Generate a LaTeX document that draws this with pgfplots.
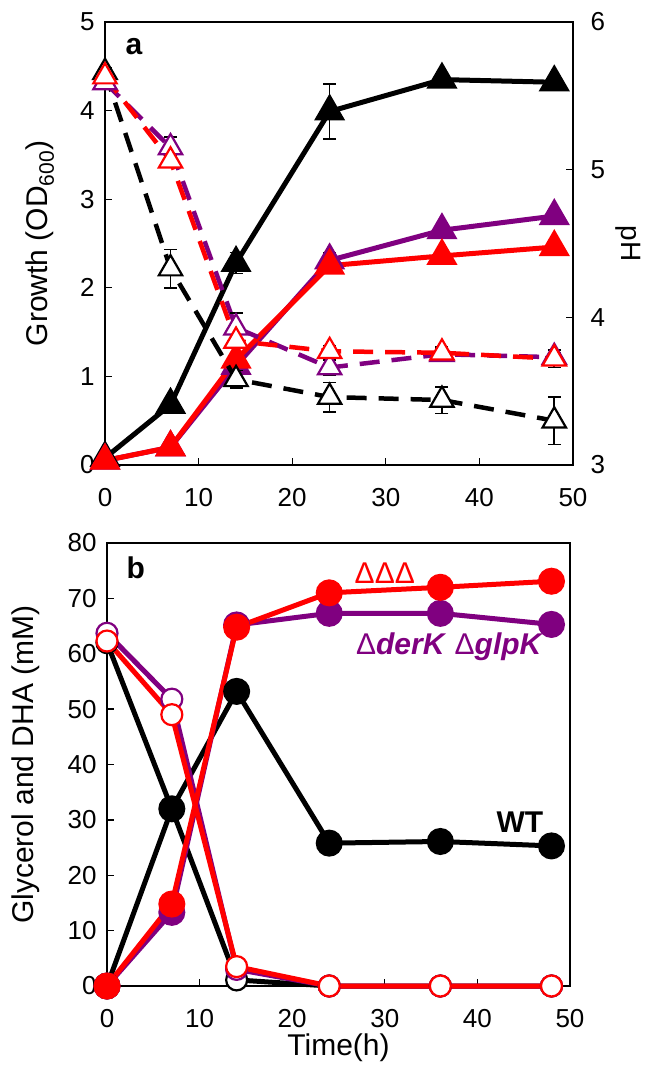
\documentclass[border=0pt]{standalone}
\usepackage{pgfplots}
\pgfplotsset{compat=1.18}
\usepackage{fontspec}
\setmainfont{Liberation Sans}
\definecolor{ppl}{RGB}{128,0,128}
\definecolor{rd}{RGB}{255,0,0}

\pgfplotsset{
  every axis/.append style={
    scale only axis, clip=false,
    tick label style={font=\fontsize{26}{30}\selectfont},
    label style={font=\fontsize{30}{34}\selectfont},
    /pgf/number format/assume math mode=true,
    axis line style={line width=1.3pt},
    major tick style={line width=1.3pt, black},
    major tick length=7pt,
    tick align=inside,
    xticklabel style={yshift=-20pt},
  },
  grow/.style={line width=5pt, mark=triangle*, mark size=13pt, mark options={solid}},
  ph/.style={line width=4.5pt, dash pattern=on 20pt off 12pt, mark=triangle*, mark size=13.5pt,
             mark options={solid, fill=white, line width=2.2pt}},
  circ/.style={line width=5pt, mark=*, mark size=11pt, mark options={solid}},
  ocirc/.style={line width=5pt, mark=*, mark size=10.5pt, mark options={solid, fill=white, line width=2.2pt}},
  eb/.style={error bars/.cd, y dir=both, y explicit,
    error bar style={black, solid, line width=1.6pt},
    error mark options={rotate=90, mark size=6.5pt, black, solid, line width=1.6pt}},
}

\begin{document}
\begin{tikzpicture}
% panel a, growth
\begin{axis}[
  at={(0pt,0pt)}, anchor=south west,
  width=468pt, height=443pt,
  xmin=0, xmax=50, ymin=0, ymax=5,
  xtick={0,10,...,50}, ytick={0,1,...,5},
  xtick pos=bottom, ytick pos=left,
  yticklabel style={xshift=-7pt},
  ylabel={Growth (OD\textsubscript{600})},
  ylabel style={at={(axis description cs:-0.139,0.5)}, anchor=center},
]
\addplot[grow, black, eb] coordinates {(0,0.08) +- (0,0.03) (7,0.68) +- (0,0.05) (14,2.28) +- (0,0.12) (24,3.99) +- (0,0.31) (36,4.35) +- (0,0.03) (48,4.32) +- (0,0.03)};
\addplot[grow, ppl, eb] coordinates {(0,0.05) +- (0,0.02) (7,0.2) +- (0,0.02) (14,1.12) +- (0,0.05) (24,2.31) +- (0,0.08) (36,2.65) +- (0,0.05) (48,2.81) +- (0,0.04)};
\addplot[grow, rd, eb] coordinates {(0,0.05) +- (0,0.02) (7,0.2) +- (0,0.02) (14,1.19) +- (0,0.05) (24,2.25) +- (0,0.06) (36,2.36) +- (0,0.06) (48,2.46) +- (0,0.05)};
\node[font=\fontsize{30}{34}\selectfont\bfseries] at (axis cs:3.1,4.72) {a};
\end{axis}
% panel a, pH
\begin{axis}[
  at={(0pt,0pt)}, anchor=south west,
  width=468pt, height=443pt,
  xmin=0, xmax=50, ymin=3, ymax=6,
  axis y line*=right, axis x line=none,
  ytick={3,4,5,6},
  yticklabel style={xshift=14pt},
  ylabel={pH},
  ylabel style={at={(axis description cs:1.118,0.5)}, anchor=center, rotate=180, font=\fontsize{28}{32}\selectfont},
]
\addplot[ph, black, eb] coordinates {(0,5.66) +- (0,0.03) (7,4.33) +- (0,0.13) (14,3.58) +- (0,0.06) (24,3.46) +- (0,0.1) (36,3.44) +- (0,0.09) (48,3.3) +- (0,0.16)};
\addplot[ph, ppl, eb] coordinates {(0,5.59) +- (0,0.02) (7,5.15) +- (0,0.07) (14,3.93) +- (0,0.1) (24,3.66) +- (0,0.05) (36,3.75) +- (0,0.04) (48,3.73) +- (0,0.03)};
\addplot[ph, rd, eb] coordinates {(0,5.63) +- (0,0.02) (7,5.06) +- (0,0.04) (14,3.84) +- (0,0.05) (24,3.77) +- (0,0.04) (36,3.76) +- (0,0.04) (48,3.72) +- (0,0.06)};
\end{axis}
% panel b
\begin{axis}[
  at={(2pt,-521pt)}, anchor=south west,
  width=463pt, height=443pt,
  xmin=0, xmax=50, ymin=0, ymax=80,
  xtick={0,10,...,50}, ytick={0,10,...,80},
  xtick pos=bottom, ytick pos=left,
  yticklabel style={xshift=-7pt},
  xlabel={Time(h)},
  ylabel={Glycerol and DHA (mM)},
  xlabel style={at={(axis description cs:0.5,0)}, anchor=center, yshift=-62pt},
  ylabel style={at={(axis description cs:-0.175,0.5)}, anchor=center},
]
\addplot[ocirc, black] coordinates {(0,62) (7,32) (14,1.1) (24,0) (36,0) (48,0)};
\addplot[circ, black] coordinates {(0,0) (7,32) (14,53.2) (24,25.8) (36,26.1) (48,25.3)};
\addplot[ocirc, ppl] coordinates {(0,63.7) (7,51.8) (14,3) (24,0) (36,0) (48,0)};
\addplot[circ, ppl] coordinates {(0,0) (7,13.3) (14,65.2) (24,67.3) (36,67.3) (48,65.3)};
\addplot[ocirc, rd] coordinates {(0,62.3) (7,49) (14,3.5) (24,0) (36,0) (48,0)};
\addplot[circ, rd] coordinates {(0,0) (7,14.8) (14,64.8) (24,71) (36,72) (48,73.1)};
\node[font=\fontsize{30}{34}\selectfont\bfseries] at (axis cs:3.1,75.5) {b};
\node[font=\fontsize{30}{34}\selectfont, text=rd] at (axis cs:30,74.6) {ΔΔΔ};
\node[font=\fontsize{30}{34}\selectfont, text=ppl] at (axis cs:37,61.2) {Δ\textbf{\textit{derK}} Δ\textbf{\textit{glpK}}};
\node[font=\fontsize{30}{34}\selectfont\bfseries] at (axis cs:44.6,29.5) {WT};
\end{axis}
\pgfresetboundingbox
\useasboundingbox (-105pt,-603pt) rectangle (542pt,465pt);
\end{tikzpicture}
\end{document}
